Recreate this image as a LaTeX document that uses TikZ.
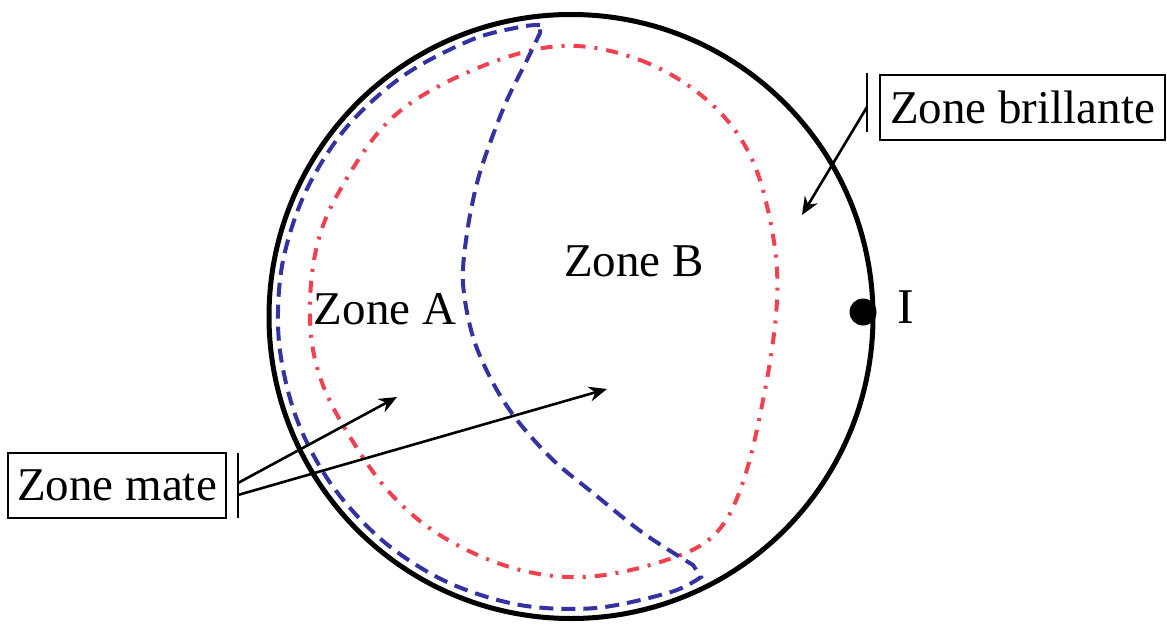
\documentclass[tikz,border=0pt]{standalone}
\usepackage{fontspec}
\setmainfont{Liberation Serif}
\usetikzlibrary{arrows.meta,positioning}
\definecolor{crescent}{RGB}{50,50,160}
\definecolor{contour}{RGB}{240,65,80}

\begin{document}
\begin{tikzpicture}[x=0.5pt,y=-0.5pt,font=\fontsize{23.5}{28}\selectfont,
lbl/.style={inner sep=0pt},
box/.style={draw,line width=1.2pt,minimum height=32.5pt,inner sep=0pt},
tick/.style={line width=1.2pt},
arr/.style={-{Stealth[length=9pt,width=7.5pt]},line width=1.3pt},
bluezone/.style={draw=crescent,line width=2pt,dash pattern=on 7pt off 4pt},
redzone/.style={draw=contour,line width=2pt,dash pattern=on 6pt off 4.5pt on 1.5pt off 4.5pt}]
\useasboundingbox (0,0) rectangle (1167,626);
% sphere
\draw[line width=2.5pt] (571,316.5) circle[radius=302];
% dash-dot contour
\draw[redzone] plot[smooth cycle,tension=0.6] coordinates {(560,46) (640,60) (707,100) (750,155) (772,230) (777,300) (765,390) (742,485) (712,537) (657,563) (583,577) (513,568) (443,537) (390,493) (347,432) (320,377) (310,320) (316,250) (340,190) (393,117) (473,70)};
% crescent
\draw[bluezone] plot[smooth,tension=0.55] coordinates {(540,25) (520,27) (471,40) (403,76) (346,128) (305,193) (282,266) (279,342) (296,417) (331,484) (383,541) (447,582) (520,605) (596,608) (671,592) (701,577)}
  -- plot[smooth,tension=0.55] coordinates {(693,565) (643,533) (593,493) (553,460) (517,420) (493,383) (473,337) (463,283) (467,233) (477,183) (490,143) (507,100) (527,60) (540,33)} -- cycle;
% labels
\node[lbl] (za) at (385,309) {Zone A};
\node[lbl] (zb) at (634,261) {Zone B};
\node[circle,fill,inner sep=0pt,minimum size=13.5pt] (pt) at (863,312) {};
\node[lbl,font=\fontsize{25}{30}\selectfont] (ptI) at (906,307) {I};
\node[box,minimum width=109pt] (mate) at (117,485.5) {Zone mate};
\node[box,minimum width=142.5pt] (brill) at (1022.5,107.5) {Zone brillante};
% ticks and arrows
\coordinate (mt1) at (238,483); \coordinate (mt2) at (238,495);
\coordinate (bt) at (867,107);
\coordinate (tipA) at (397,397); \coordinate (tipB) at (607,389); \coordinate (tipC) at (802,215);
\draw[tick] (238,453)--(238,518); \draw[tick] (867,73)--(867,132);
\draw[arr] (mt1)--(tipA); \draw[arr] (mt2)--(tipB);
\draw[arr] (bt)--(tipC);
\end{tikzpicture}
\end{document}
